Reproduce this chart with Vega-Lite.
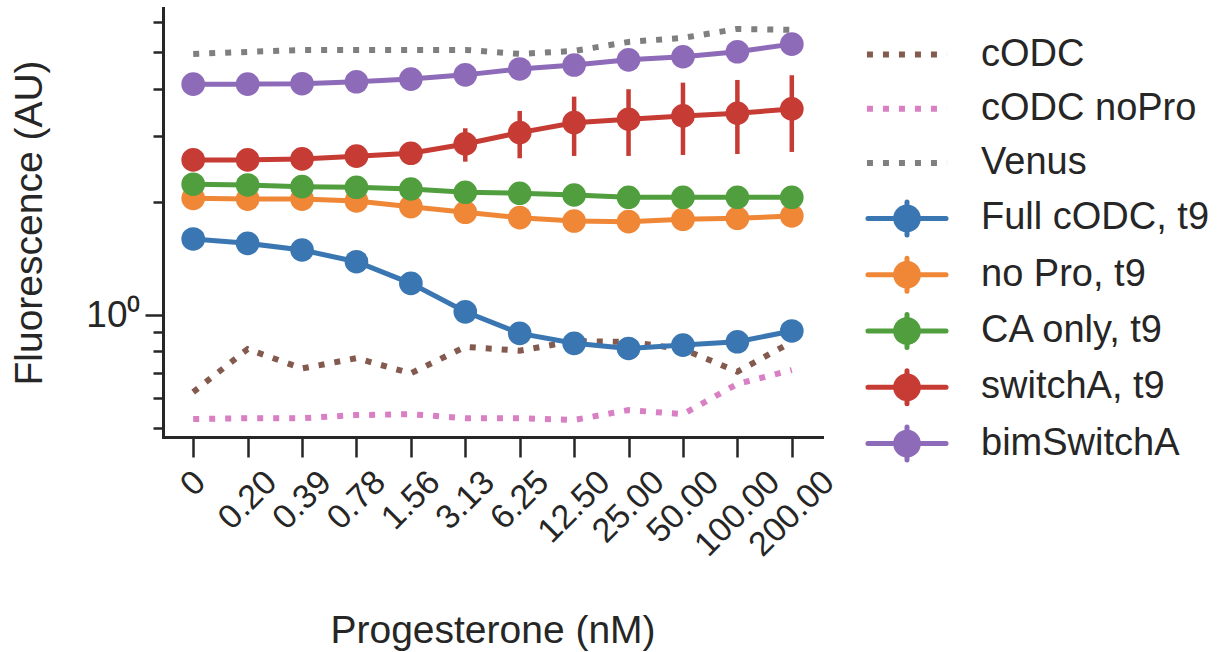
{
  "$schema": "https://vega.github.io/schema/vega-lite/v6.json",
  "width": 659,
  "height": 429,
  "autosize": {"type": "none"},
  "padding": {"left": 163, "top": 8, "right": 400, "bottom": 215},
  "background": "white",
  "config": {
    "view": {"stroke": null},
    "font": "Liberation Sans",
    "axis": {
      "grid": false,
      "domainColor": "#262626",
      "domainWidth": 3,
      "domainCap": "square",
      "tickColor": "#262626",
      "tickWidth": 2.5,
      "labelColor": "#262626",
      "titleColor": "#262626",
      "labelFont": "Liberation Sans",
      "titleFont": "Liberation Sans",
      "titleFontWeight": "normal"
    },
    "legend": {"labelFont": "Liberation Sans"}
  },
  "datasets": {
    "main": [
      {"series": "cODC", "x": "0", "v": 0.624}, {"series": "cODC", "x": "0.20", "v": 0.812}, {"series": "cODC", "x": "0.39", "v": 0.721}, {"series": "cODC", "x": "0.78", "v": 0.768}, {"series": "cODC", "x": "1.56", "v": 0.700}, {"series": "cODC", "x": "3.13", "v": 0.823}, {"series": "cODC", "x": "6.25", "v": 0.804}, {"series": "cODC", "x": "12.50", "v": 0.853}, {"series": "cODC", "x": "25.00", "v": 0.848}, {"series": "cODC", "x": "50.00", "v": 0.812}, {"series": "cODC", "x": "100.00", "v": 0.707}, {"series": "cODC", "x": "200.00", "v": 0.848},
      {"series": "cODC noPro", "x": "0", "v": 0.529}, {"series": "cODC noPro", "x": "0.20", "v": 0.532}, {"series": "cODC noPro", "x": "0.39", "v": 0.532}, {"series": "cODC noPro", "x": "0.78", "v": 0.542}, {"series": "cODC noPro", "x": "1.56", "v": 0.545}, {"series": "cODC noPro", "x": "3.13", "v": 0.532}, {"series": "cODC noPro", "x": "6.25", "v": 0.532}, {"series": "cODC noPro", "x": "12.50", "v": 0.526}, {"series": "cODC noPro", "x": "25.00", "v": 0.559}, {"series": "cODC noPro", "x": "50.00", "v": 0.545}, {"series": "cODC noPro", "x": "100.00", "v": 0.656}, {"series": "cODC noPro", "x": "200.00", "v": 0.714},
      {"series": "Venus", "x": "0", "v": 4.945}, {"series": "Venus", "x": "0.20", "v": 5.006}, {"series": "Venus", "x": "0.39", "v": 5.068}, {"series": "Venus", "x": "0.78", "v": 5.068}, {"series": "Venus", "x": "1.56", "v": 5.068}, {"series": "Venus", "x": "3.13", "v": 5.068}, {"series": "Venus", "x": "6.25", "v": 4.945}, {"series": "Venus", "x": "12.50", "v": 5.037}, {"series": "Venus", "x": "25.00", "v": 5.322}, {"series": "Venus", "x": "50.00", "v": 5.455}, {"series": "Venus", "x": "100.00", "v": 5.763}, {"series": "Venus", "x": "200.00", "v": 5.728},
      {"series": "Full cODC, t9", "x": "0", "v": 1.593}, {"series": "Full cODC, t9", "x": "0.20", "v": 1.551}, {"series": "Full cODC, t9", "x": "0.39", "v": 1.489}, {"series": "Full cODC, t9", "x": "0.78", "v": 1.386}, {"series": "Full cODC, t9", "x": "1.56", "v": 1.214}, {"series": "Full cODC, t9", "x": "3.13", "v": 1.020}, {"series": "Full cODC, t9", "x": "6.25", "v": 0.894}, {"series": "Full cODC, t9", "x": "12.50", "v": 0.841}, {"series": "Full cODC, t9", "x": "25.00", "v": 0.815}, {"series": "Full cODC, t9", "x": "50.00", "v": 0.832}, {"series": "Full cODC, t9", "x": "100.00", "v": 0.849}, {"series": "Full cODC, t9", "x": "200.00", "v": 0.907},
      {"series": "no Pro, t9", "x": "0", "v": 2.043}, {"series": "no Pro, t9", "x": "0.20", "v": 2.034}, {"series": "no Pro, t9", "x": "0.39", "v": 2.034}, {"series": "no Pro, t9", "x": "0.78", "v": 2.010}, {"series": "no Pro, t9", "x": "1.56", "v": 1.941}, {"series": "no Pro, t9", "x": "3.13", "v": 1.876}, {"series": "no Pro, t9", "x": "6.25", "v": 1.815}, {"series": "no Pro, t9", "x": "12.50", "v": 1.778}, {"series": "no Pro, t9", "x": "25.00", "v": 1.771}, {"series": "no Pro, t9", "x": "50.00", "v": 1.797}, {"series": "no Pro, t9", "x": "100.00", "v": 1.808}, {"series": "no Pro, t9", "x": "200.00", "v": 1.834},
      {"series": "CA only, t9", "x": "0", "v": 2.227}, {"series": "CA only, t9", "x": "0.20", "v": 2.217}, {"series": "CA only, t9", "x": "0.39", "v": 2.194}, {"series": "CA only, t9", "x": "0.78", "v": 2.186}, {"series": "CA only, t9", "x": "1.56", "v": 2.163}, {"series": "CA only, t9", "x": "3.13", "v": 2.120}, {"series": "CA only, t9", "x": "6.25", "v": 2.107}, {"series": "CA only, t9", "x": "12.50", "v": 2.085}, {"series": "CA only, t9", "x": "25.00", "v": 2.056}, {"series": "CA only, t9", "x": "50.00", "v": 2.056}, {"series": "CA only, t9", "x": "100.00", "v": 2.056}, {"series": "CA only, t9", "x": "200.00", "v": 2.056},
      {"series": "switchA, t9", "x": "0", "v": 2.584}, {"series": "switchA, t9", "x": "0.20", "v": 2.584}, {"series": "switchA, t9", "x": "0.39", "v": 2.600}, {"series": "switchA, t9", "x": "0.78", "v": 2.644}, {"series": "switchA, t9", "x": "1.56", "v": 2.692}, {"series": "switchA, t9", "x": "3.13", "v": 2.850}, {"series": "switchA, t9", "x": "6.25", "v": 3.054}, {"series": "switchA, t9", "x": "12.50", "v": 3.246}, {"series": "switchA, t9", "x": "25.00", "v": 3.315}, {"series": "switchA, t9", "x": "50.00", "v": 3.383}, {"series": "switchA, t9", "x": "100.00", "v": 3.439}, {"series": "switchA, t9", "x": "200.00", "v": 3.531},
      {"series": "bimSwitchA", "x": "0", "v": 4.110}, {"series": "bimSwitchA", "x": "0.20", "v": 4.110}, {"series": "bimSwitchA", "x": "0.39", "v": 4.120}, {"series": "bimSwitchA", "x": "0.78", "v": 4.170}, {"series": "bimSwitchA", "x": "1.56", "v": 4.240}, {"series": "bimSwitchA", "x": "3.13", "v": 4.350}, {"series": "bimSwitchA", "x": "6.25", "v": 4.510}, {"series": "bimSwitchA", "x": "12.50", "v": 4.620}, {"series": "bimSwitchA", "x": "25.00", "v": 4.770}, {"series": "bimSwitchA", "x": "50.00", "v": 4.860}, {"series": "bimSwitchA", "x": "100.00", "v": 5.010}, {"series": "bimSwitchA", "x": "200.00", "v": 5.250}
    ],
    "err": [
      {"series": "switchA, t9", "x": "0", "lo": 2.55, "hi": 2.62},
      {"series": "switchA, t9", "x": "0.20", "lo": 2.55, "hi": 2.62},
      {"series": "switchA, t9", "x": "0.39", "lo": 2.56, "hi": 2.64},
      {"series": "switchA, t9", "x": "0.78", "lo": 2.59, "hi": 2.70},
      {"series": "switchA, t9", "x": "1.56", "lo": 2.62, "hi": 2.77},
      {"series": "switchA, t9", "x": "3.13", "lo": 2.557, "hi": 3.137},
      {"series": "switchA, t9", "x": "6.25", "lo": 2.611, "hi": 3.488},
      {"series": "switchA, t9", "x": "12.50", "lo": 2.648, "hi": 3.807},
      {"series": "switchA, t9", "x": "25.00", "lo": 2.648, "hi": 3.984},
      {"series": "switchA, t9", "x": "50.00", "lo": 2.664, "hi": 4.148},
      {"series": "switchA, t9", "x": "100.00", "lo": 2.680, "hi": 4.217},
      {"series": "switchA, t9", "x": "200.00", "lo": 2.714, "hi": 4.340}
    ]
  },
  "encoding": {
    "x": {
      "field": "x", "type": "ordinal",
      "scale": {"type": "point", "padding": 0.555, "domain": ["0","0.20","0.39","0.78","1.56","3.13","6.25","12.50","25.00","50.00","100.00","200.00"]},
      "axis": {
        "title": "Progesterone (nM)",
        "titleFontSize": 39,
        "titleX": 329.5, "titleY": 205, "titleBaseline": "alphabetic", "titleAlign": "center",
        "labelFontSize": 34, "labelAngle": -45, "labelAlign": "center", "labelBaseline": "middle",
        "labelPadding": {"expr": "11 + (length(datum.label) * 18.9 - (indexof(datum.label, '.') >= 0 ? 9.45 : 0) + 25) / 2.83"},
        "tickSize": 20
      }
    },
    "y": {
      "field": "v", "type": "quantitative",
      "scale": {"type": "log", "domain": [0.474, 6.55], "nice": false, "zero": false},
      "axis": {
        "title": "Fluorescence (AU)",
        "titleFontSize": 39,
        "titleX": -134, "titleY": 214.5, "titleAngle": -90, "titleAlign": "center", "titleBaseline": "middle",
        "values": [0.5, 0.6, 0.7, 0.8, 0.9, 1, 2, 3, 4, 5, 6],
        "labelExpr": "datum.value == 1 ? '10⁰' : ''",
        "labelFontSize": 37, "labelPadding": 5,
        "tickSize": {"expr": "datum.value == 1 ? 18 : 10"}
      }
    },
    "color": {
      "field": "series", "type": "nominal",
      "scale": {
        "domain": ["cODC", "cODC noPro", "Venus", "Full cODC, t9", "no Pro, t9", "CA only, t9", "switchA, t9", "bimSwitchA"],
        "range": ["#845a4f", "#d97fc4", "#7f7f7f", "#3a77b2", "#ef8737", "#509e3d", "#c63b33", "#8d6bb8"]
      },
      "legend": {
        "title": null,
        "orient": "none",
        "legendX": 725,
        "legendY": 27.5,
        "padding": 0,
        "symbolSize": 784,
        "symbolType": "circle",
        "labelFontSize": 38,
        "labelLimit": 400,
        "labelColor": "#262626",
        "labelOffset": 55,
        "rowPadding": 16.3,
        "encode": {
          "symbols": {
            "update": {
              "shape": {"signal": "indexof(['cODC','cODC noPro','Venus'], datum.value) >= 0 ? 'M0,-1.107M0,1.107M-2.86,0H2.86' : 'M-2.79,0H2.79M0,-1.18V1.18M0.81,0A0.81,0.81 0 1,1 -0.81,0A0.81,0.81 0 1,1 0.81,0Z'"},
              "strokeDash": {"signal": "indexof(['cODC','cODC noPro','Venus'], datum.value) >= 0 ? [6,10] : [1,0]"},
              "strokeWidth": {"signal": "indexof(['cODC','cODC noPro','Venus'], datum.value) >= 0 ? 6 : 5"},
              "strokeCap": {"signal": "indexof(['cODC','cODC noPro','Venus'], datum.value) >= 0 ? 'butt' : 'round'"},
              "strokeJoin": {"value": "round"},
              "fill": {"scale": "color", "field": "value"},
              "stroke": {"scale": "color", "field": "value"},
              "opacity": {"value": 1},
              "fillOpacity": {"value": 1},
              "strokeOpacity": {"value": 1}
            }
          }
        }
      }
    }
  },
  "layer": [
    {
      "data": {"name": "main"},
      "transform": [{"filter": "indexof(['cODC','cODC noPro','Venus'], datum.series) >= 0"}],
      "mark": {"type": "line", "strokeWidth": 6, "strokeDash": [6, 10], "strokeCap": "butt"},
      "encoding": {"detail": {"field": "series"}}
    },
    {
      "data": {"name": "main"},
      "transform": [{"filter": "indexof(['cODC','cODC noPro','Venus'], datum.series) < 0"}],
      "mark": {"type": "line", "strokeWidth": 5},
      "encoding": {}
    },
    {
      "data": {"name": "err"},
      "mark": {"type": "rule", "strokeWidth": 4.5},
      "encoding": {
        "y": {"field": "lo", "type": "quantitative"},
        "y2": {"field": "hi"}
      }
    },
    {
      "data": {"name": "main"},
      "transform": [{"filter": "indexof(['cODC','cODC noPro','Venus'], datum.series) < 0"}],
      "mark": {"type": "point", "filled": true, "opacity": 1, "size": 560, "shape": "circle"},
      "encoding": {}
    }
  ]
}
